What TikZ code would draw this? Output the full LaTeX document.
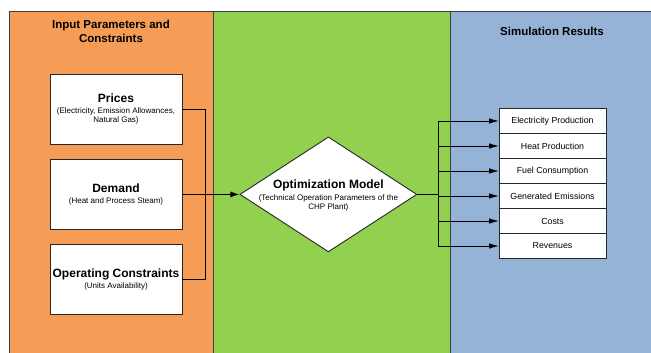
\documentclass[tikz,border=0pt]{standalone}
\usepackage{fontspec}
\setmainfont{Liberation Sans}
\usepackage{tikz}
\usetikzlibrary{positioning}
\usetikzlibrary{shapes.geometric}
\usetikzlibrary{arrows.meta}

\definecolor{inputorange}{RGB}{245,157,86}
\definecolor{modelgreen}{RGB}{146,208,80}
\definecolor{resultblue}{RGB}{149,179,215}

\newcommand{\boxtitle}[1]{{\fontsize{12}{14}\selectfont\bfseries #1}}

\begin{document}
\begin{tikzpicture}[
    x=1pt, y=-1pt,
    panel/.style={draw=black!75, line width=0.8pt},
    heading/.style={font=\fontsize{11.5}{14}\selectfont\bfseries, align=center},
    inbox/.style={draw=black!85, fill=white, line width=0.9pt, minimum width=132pt, minimum height=70pt, inner sep=1pt, align=center, font=\fontsize{8}{9.5}\selectfont},
    result/.style={draw=black!85, fill=white, line width=0.9pt, minimum width=107pt, minimum height=25pt, inner sep=0pt, outer sep=0pt, font=\fontsize{8.8}{10}\selectfont},
    model/.style={draw=black!85, fill=white, diamond, line width=0.9pt, minimum width=177pt, minimum height=115pt, inner sep=0pt},
    link/.style={draw=black, line width=0.9pt},
    feed/.style={draw=black, line width=0.9pt, -{Latex[length=10pt,width=5.5pt]}},
    mainfeed/.style={draw=black, line width=1.3pt, -{Latex[length=9pt,width=6pt]}}
    ]

    \useasboundingbox (0,0) rectangle (651,353);

    % three panels
    \draw[panel, fill=inputorange] (9,11) rectangle (213,353);
    \draw[panel, fill=modelgreen] (213,11) rectangle (450,353);
    \draw[panel, fill=resultblue] (450,11) rectangle (651,353);

    \node[heading] (intitle) at (111,31) {Input Parameters and\\Constraints};
    \node[heading] (restitle) at (552,31) {Simulation Results};

    \node[inbox] (prices) at (116,109) {\boxtitle{Prices}\\[1.5pt](Electricity, Emission Allowances,\\Natural Gas)};
    \node[inbox, below=14.5pt of prices] (demand) {\boxtitle{Demand}\\[1.5pt](Heat and Process Steam)};
    \node[inbox, below=14.5pt of demand] (operating) {\boxtitle{Operating Constraints}\\[1.5pt](Units Availability)};

    \node[model, right=57pt of demand] (model) {};
    \node[align=center, font=\fontsize{8}{9.5}\selectfont] (modeltext) at ([yshift=-1.5pt]model.center) {\boxtitle{Optimization Model}\\[2pt](Technical Operation Parameters of the\\CHP Plant)};

    \node[result] (elec) at (552.5,121) {Electricity Production};
    \node[result, below=0pt of elec] (heat) {Heat Production};
    \node[result, below=0pt of heat] (fuel) {Fuel Consumption};
    \node[result, below=0pt of fuel] (emis) {Generated Emissions};
    \node[result, below=0pt of emis] (costs) {Costs};
    \node[result, below=0pt of costs] (rev) {Revenues};

    \coordinate[right=21pt of model.east] (outbus);

    \draw[link] (prices.east) -- ++(23,0) |- (operating.east);
    \draw[mainfeed] (demand.east) -- (model.west);

    \draw[link, line width=1.3pt] (model.east) -- (outbus);
    \draw[link] (outbus |- elec.west) -- (outbus |- rev.west);
    \draw[feed] (outbus |- elec.west) -- (elec.west);
    \draw[feed] (outbus |- heat.west) -- (heat.west);
    \draw[feed] (outbus |- fuel.west) -- (fuel.west);
    \draw[feed] (outbus |- emis.west) -- (emis.west);
    \draw[feed] (outbus |- costs.west) -- (costs.west);
    \draw[feed] (outbus |- rev.west) -- (rev.west);
  \end{tikzpicture}
\end{document}
